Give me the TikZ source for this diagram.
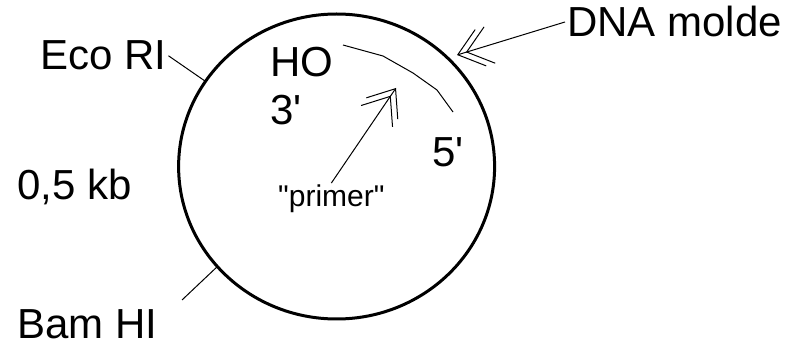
\documentclass[tikz,border=0pt]{standalone}
\usepackage{fontspec}
\setmainfont{Liberation Sans}
\usetikzlibrary{shapes.geometric,arrows.meta,positioning}

\begin{document}
\begin{tikzpicture}[x=1pt, y=-1pt,
    lbl/.style={font=\fontsize{42}{50}\selectfont, inner sep=2pt, anchor=base west},
    smalllbl/.style={font=\fontsize{30}{36}\selectfont, inner sep=2pt, anchor=base west},
    wire/.style={line width=1pt},
    dbl/.style={wire, -{Straight Barb[length=24pt,width=38pt,sep=-16pt]Straight Barb[length=24pt,width=38pt]}}]
  \useasboundingbox (0,0) rectangle (785,347);

  % plasmid ring
  \node[ellipse, draw, line width=3pt, inner sep=0pt, outer sep=0pt,
        minimum width=316pt, minimum height=305pt] (plasmid) at (336.6,166.5) {};

  % restriction sites and size
  \node[lbl] (ecori) at (38,70) {Eco RI};
  \node[lbl] (bamhi) at (15,339) {Bam HI};
  \node[lbl] (size) at (15,200) {0,5 kb};
  \coordinate (bamend) at (182,300);
  \draw[wire] (ecori.east) -- (plasmid.147);
  \draw[wire] (bamend) -- (plasmid.220.6);

  % template strand
  \node[lbl] (dna) at (565,37) {DNA molde};
  \coordinate (dnatip) at (457,55);
  \draw[dbl] (dna.west) -- (dnatip);

  % primer strand with its ends
  \node[lbl] (ho) at (268,77) {HO};
  \node[lbl] (three) at (268,125) {3\textquotesingle};
  \node[lbl] (five) at (430,167) {5\textquotesingle};
  \draw[wire] (343,45) -- (383,56) -- (413,73) -- (437,90) -- (453,112);

  \node[smalllbl] (primer) at (276,207) {\textquotedbl primer\textquotedbl};
  \coordinate (primertip) at (396,88);
  \draw[dbl] (primer.north) -- (primertip);
\end{tikzpicture}
\end{document}
